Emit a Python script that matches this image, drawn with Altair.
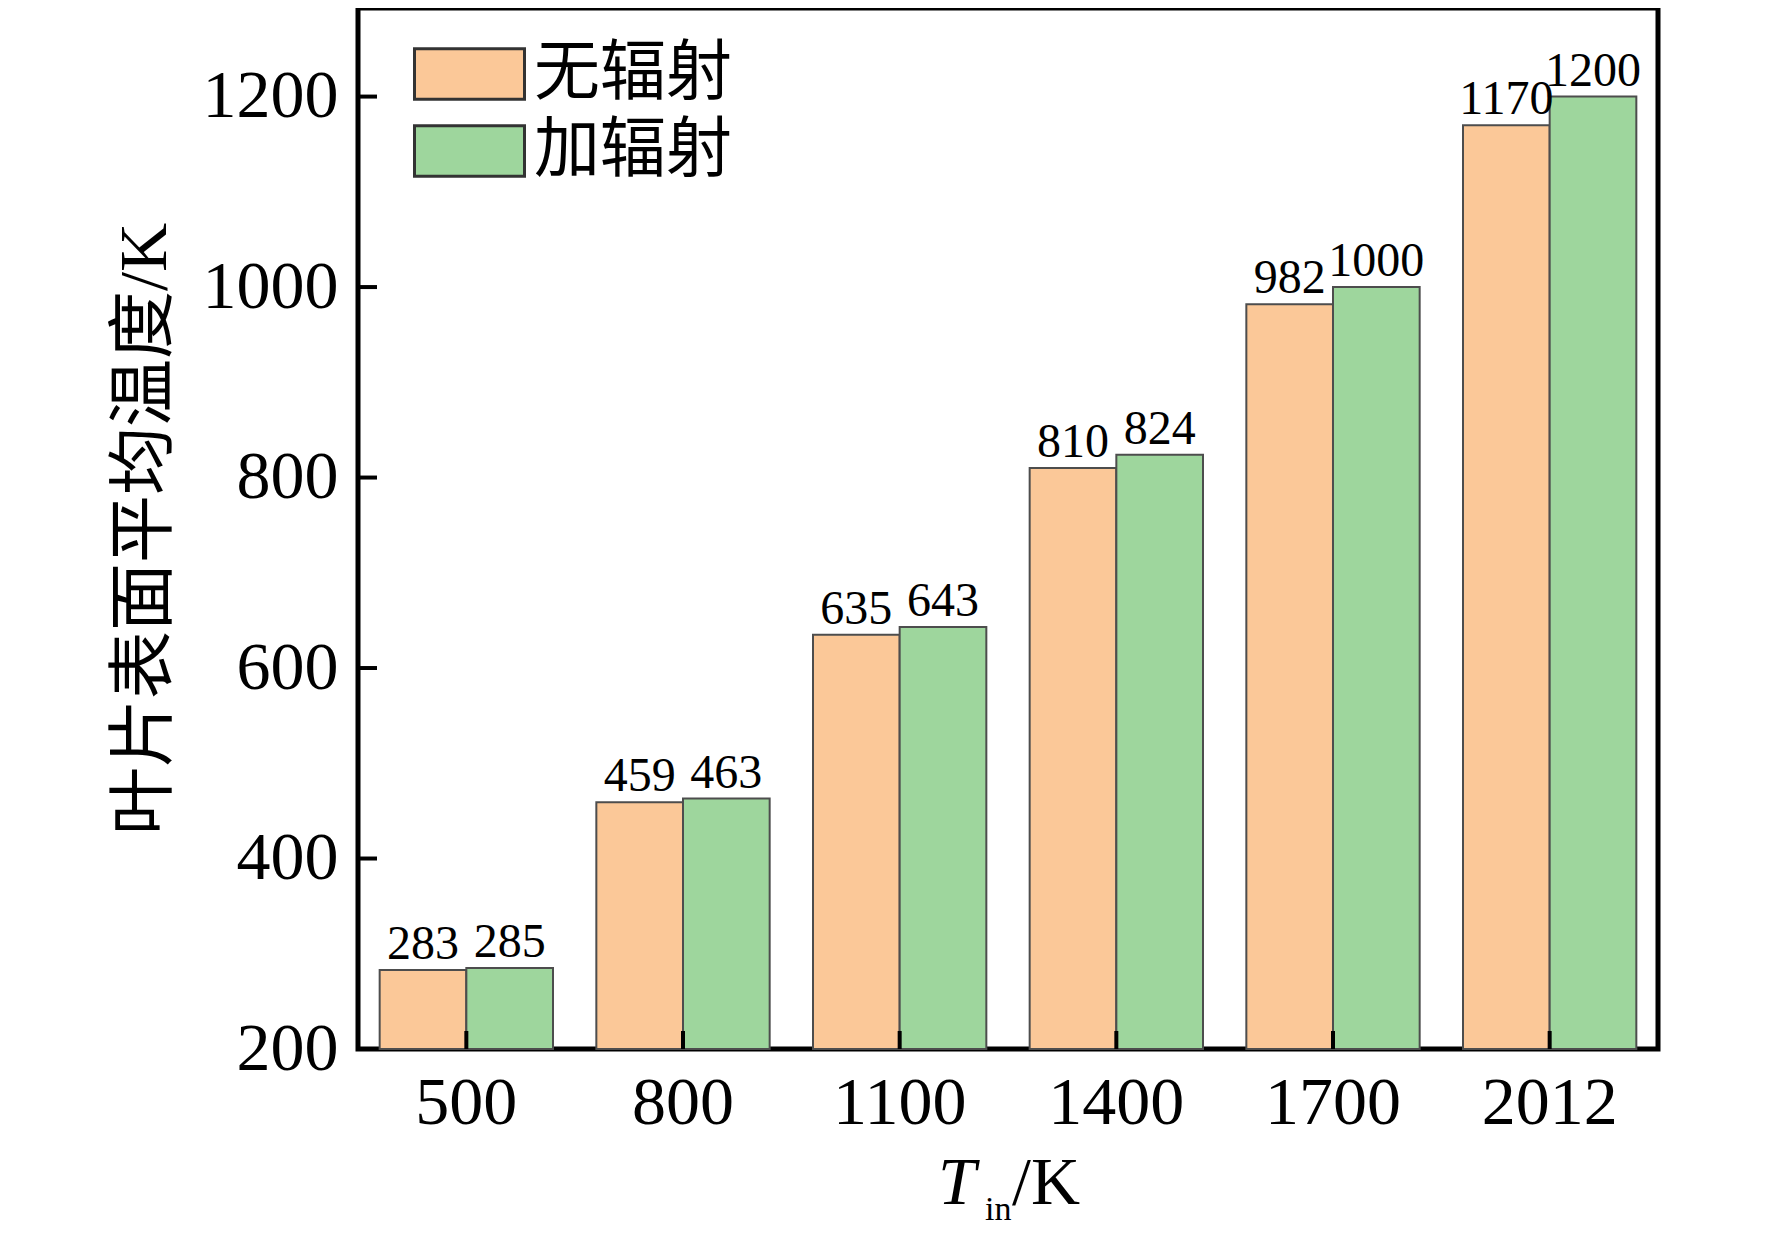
import altair as alt
import pandas as pd

categories = ["500", "800", "1100", "1400", "1700", "2012"]
series = ["无辐射", "加辐射"]
no_rad = [283, 459, 635, 810, 982, 1170]
with_rad = [285, 463, 643, 824, 1000, 1200]
y_ticks = [200, 400, 600, 800, 1000, 1200]
colors = ["#FBC898", "#9ED69D"]

rows = []
for c, a, b in zip(categories, no_rad, with_rad):
    rows.append({"cat": c, "series": series[0], "value": a})
    rows.append({"cat": c, "series": series[1], "value": b})
df = pd.DataFrame(rows)

W, H = 1300, 1041
SERIF = "Liberation Serif, Noto Sans CJK SC"

xscale = alt.Scale(domain=categories, paddingInner=0.2, paddingOuter=0.1)
yscale = alt.Scale(domain=[200, 1293], nice=False, zero=False)
offscale = alt.Scale(domain=series, paddingInner=0, paddingOuter=0)

x_enc = alt.X("cat:N", scale=xscale,
              axis=alt.Axis(title=None, labelAngle=0, ticks=False, domain=False,
                            labelPadding=20, labelFontSize=68, labelFont=SERIF,
                            labelColor="black", grid=False))
y_enc = alt.Y("value:Q", scale=yscale,
              axis=alt.Axis(title="叶片表面平均温度/K", values=y_ticks, format="d",
                            ticks=False, domain=False, grid=False, labelPadding=20,
                            labelFontSize=68, labelFont=SERIF, labelColor="black",
                            titleFontSize=68, titleFont=SERIF, titleFontWeight="normal",
                            titleColor="black", titleX=-213, titleY=H / 2,
                            titleAngle=-90, titleBaseline="middle", titleAlign="center"))

bars = alt.Chart(df).mark_bar(stroke="#4d4d4d", strokeWidth=2).encode(
    x=x_enc,
    xOffset=alt.XOffset("series:N", scale=offscale),
    y=y_enc,
    y2=alt.datum(200),
    fill=alt.Fill("series:N", scale=alt.Scale(domain=series, range=colors),
                  legend=alt.Legend(title=None, orient="none", legendX=55, legendY=33,
                                    symbolType="M-1,-0.46H1V0.46H-1Z",
                                    symbolSize=12100, symbolStrokeColor="#333333",
                                    symbolStrokeWidth=3, symbolOpacity=1,
                                    labelFontSize=66, labelFont=SERIF,
                                    labelColor="black", labelOffset=8,
                                    labelBaseline="middle", rowPadding=11,
                                    clipHeight=66, labelLimit=400)),
)

labels = alt.Chart(df).mark_text(fontSize=48, font=SERIF, color="black",
                                 baseline="alphabetic", dy=-11).encode(
    x=alt.X("cat:N", scale=xscale),
    xOffset=alt.XOffset("series:N", scale=offscale),
    y=alt.Y("value:Q", scale=yscale),
    text=alt.Text("value:Q"),
)

tick_df = pd.DataFrame({"v": y_ticks[1:]})
ytick_rules = alt.Chart(tick_df).mark_rule(color="black", strokeWidth=4).encode(
    y=alt.Y("v:Q", scale=yscale),
    x=alt.value(0),
    x2=alt.value(19),
)

cat_df = pd.DataFrame({"cat": categories})
xtick_rules = alt.Chart(cat_df).mark_rule(color="black", strokeWidth=4).encode(
    x=alt.X("cat:N", scale=xscale),
    y=alt.value(H),
    y2=alt.value(H - 18),
)

title_main = pd.DataFrame({"t": ["T"]})
title_sub = pd.DataFrame({"t": ["in"]})
title_end = pd.DataFrame({"t": ["/K"]})
t1 = alt.Chart(title_main).mark_text(fontSize=68, font=SERIF, fontStyle="italic",
                                     align="left", baseline="alphabetic", color="black").encode(
    x=alt.value(580), y=alt.value(1196), text="t:N")
t2 = alt.Chart(title_sub).mark_text(fontSize=34, font=SERIF, align="left",
                                    baseline="alphabetic", color="black").encode(
    x=alt.value(627), y=alt.value(1212), text="t:N")
t3 = alt.Chart(title_end).mark_text(fontSize=68, font=SERIF, align="left",
                                    baseline="alphabetic", color="black").encode(
    x=alt.value(654), y=alt.value(1196), text="t:N")

chart = alt.layer(bars, labels, ytick_rules, xtick_rules, t1, t2, t3).properties(
    width=W, height=H,
    autosize=alt.AutoSizeParams(type="none"),
    padding={"left": 350, "top": 0, "right": 106, "bottom": 184},
    background="white",
).configure_view(stroke="black", strokeWidth=5)

chart.save("out.html", embed_options={"renderer": "svg", "actions": False})
